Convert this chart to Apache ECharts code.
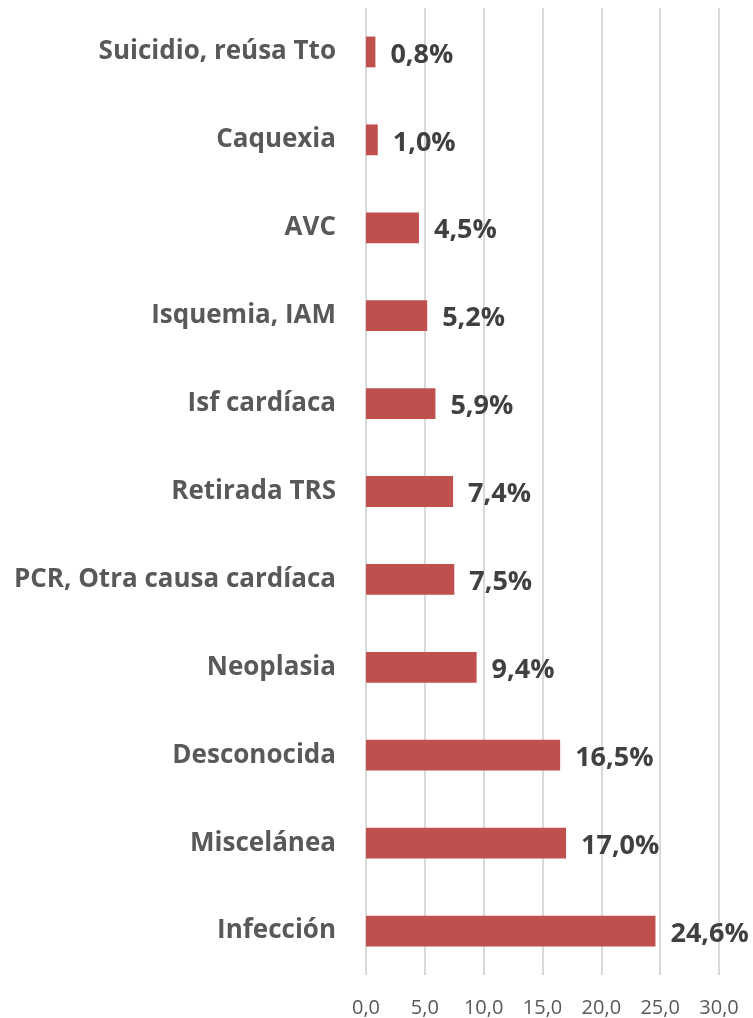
<!DOCTYPE html>
<html>
<head>
<meta charset="utf-8">
<script src="https://cdn.jsdelivr.net/npm/echarts@6/dist/echarts.min.js"></script>
<style>
  html, body { margin: 0; padding: 0; background: #ffffff; }
  #chart { width: 753px; height: 1018px; }
</style>
</head>
<body>
<div id="chart"></div>
<script>
// Causes of death, listed bottom to top as drawn on the category axis
const categories = [
  'Infección',
  'Miscelánea',
  'Desconocida',
  'Neoplasia',
  'PCR, Otra causa cardíaca',
  'Retirada TRS',
  'Isf cardíaca',
  'Isquemia, IAM',
  'AVC',
  'Caquexia',
  'Suicidio, reúsa Tto'
];
const percentages = [24.6, 17.0, 16.5, 9.4, 7.5, 7.4, 5.9, 5.2, 4.5, 1.0, 0.8];
const axisTicks = [0, 5, 10, 15, 20, 25, 30];

const FONT = '"Open Sans", "Liberation Sans", sans-serif';
const fmt1 = v => v.toFixed(1).replace('.', ',');

const chart = echarts.init(document.getElementById('chart'), null, { renderer: 'canvas' });
chart.setOption({
  animation: false,
  backgroundColor: '#ffffff',
  grid: { left: 366, right: 34, top: 8, bottom: 43, containLabel: false },
  xAxis: {
    type: 'value',
    min: axisTicks[0],
    max: axisTicks[axisTicks.length - 1],
    interval: axisTicks[1] - axisTicks[0],
    axisLine: { show: false },
    axisTick: { show: false },
    splitLine: { show: true, lineStyle: { color: '#d9d9d9', width: 2 } },
    axisLabel: {
      color: '#595959',
      fontFamily: FONT,
      fontSize: 20,
      margin: 23,
      formatter: v => fmt1(v)
    }
  },
  yAxis: {
    type: 'category',
    data: categories,
    axisLine: { show: false },
    axisTick: { show: false },
    axisLabel: {
      color: '#595959',
      fontFamily: FONT,
      fontWeight: 'bold',
      fontSize: 26,
      margin: 30,
      padding: [3, 0, 0, 0]
    }
  },
  series: [{
    type: 'bar',
    data: percentages,
    barCategoryGap: '65%',
    itemStyle: { color: '#c0504d' },
    label: {
      show: true,
      position: 'right',
      distance: 15,
      offset: [0, 3],
      color: '#404040',
      fontFamily: FONT,
      fontWeight: 'bold',
      fontSize: 27,
      formatter: p => fmt1(p.value) + '%'
    }
  }]
});
</script>
</body>
</html>
